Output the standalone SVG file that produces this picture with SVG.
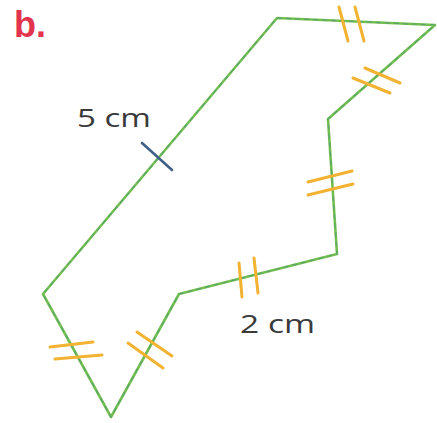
<svg xmlns="http://www.w3.org/2000/svg" width="437" height="423" viewBox="0 0 437 423">
<style>
.edge{fill:none;stroke:#72bf50;stroke-width:2.6;stroke-linejoin:round}
.dash{fill:none;stroke:#4f9a78;stroke-width:1.2;stroke-dasharray:5 4;opacity:0.7}
.tick{stroke:#f2b232;stroke-width:3;stroke-linecap:round}
.tick5{stroke:#3f5f86;stroke-width:2.6;stroke-linecap:round}
.lbl{font-family:"Open Sans","Noto Sans",sans-serif;font-size:25px;fill:#3a3a3a}
</style>
<rect width="437" height="423" fill="#ffffff"/>
<text x="14" y="37" font-family="'Liberation Sans',Arial,sans-serif" font-weight="bold" font-size="36" fill="#e2344d">b.</text>
<g id="connectors">
<polygon class="edge" points="277,18 435,25 328,119 337,254 179,294 111,417 43,294"/>
<polygon class="dash" points="277,18 435,25 328,119 337,254 179,294 111,417 43,294"/>
</g>
<g id="ticks">
<line class="tick" x1="339" y1="7" x2="348" y2="41"/>
<line class="tick" x1="355" y1="7" x2="364" y2="41"/>
<line class="tick" x1="365" y1="68" x2="400" y2="83"/>
<line class="tick" x1="353" y1="78" x2="390" y2="93"/>
<line class="tick" x1="308" y1="182" x2="352" y2="171"/>
<line class="tick" x1="308" y1="195" x2="353" y2="184"/>
<line class="tick" x1="239" y1="263" x2="242" y2="297"/>
<line class="tick" x1="254" y1="258" x2="258" y2="293"/>
<line class="tick" x1="50" y1="347" x2="93" y2="342"/>
<line class="tick" x1="55" y1="359" x2="102" y2="355"/>
<line class="tick" x1="137" y1="332" x2="172" y2="356"/>
<line class="tick" x1="128" y1="343" x2="163" y2="368"/>
<line class="tick5" x1="142" y1="143" x2="172" y2="170"/>
</g>
<g id="label-5cm"><text class="lbl" x="77" y="127" textLength="74" lengthAdjust="spacingAndGlyphs">5 cm</text></g>
<g id="label-2cm"><text class="lbl" x="240" y="333" textLength="75" lengthAdjust="spacingAndGlyphs">2 cm</text></g>
</svg>
